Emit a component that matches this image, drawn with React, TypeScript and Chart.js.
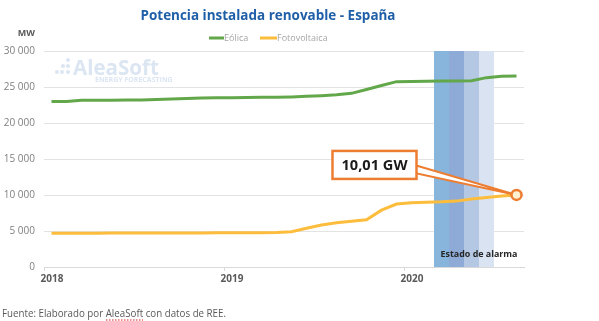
import React, { useEffect, useRef } from "react";
import { Chart, registerables } from "chart.js";

Chart.register(...registerables);

const title = "Potencia instalada renovable - España";
const unitLabel = "MW";
const footnote = "Fuente: Elaborado por AleaSoft con datos de REE.";
const seriesNames = ["Eólica", "Fotovoltaica"];
const seriesColors = ["#62a84a", "#fdbd3c"];

// Monthly values, Jan 2018 .. Aug 2020
const months = [
  "2018-01", "2018-02", "2018-03", "2018-04", "2018-05", "2018-06", "2018-07", "2018-08",
  "2018-09", "2018-10", "2018-11", "2018-12", "2019-01", "2019-02", "2019-03", "2019-04",
  "2019-05", "2019-06", "2019-07", "2019-08", "2019-09", "2019-10", "2019-11", "2019-12",
  "2020-01", "2020-02", "2020-03", "2020-04", "2020-05", "2020-06", "2020-07", "2020-08",
];
const eolica = [
  22990, 23000, 23150, 23160, 23170, 23180, 23200, 23280,
  23350, 23420, 23470, 23500, 23520, 23540, 23560, 23580,
  23620, 23700, 23800, 23920, 24120, 24660, 25200, 25740,
  25750, 25790, 25820, 25850, 25870, 26300, 26500, 26530,
];
const fotovoltaica = [
  4680, 4680, 4690, 4700, 4710, 4710, 4710, 4720,
  4720, 4720, 4730, 4740, 4750, 4760, 4770, 4800,
  4900, 5370, 5830, 6150, 6350, 6550, 7900, 8750,
  8920, 9000, 9050, 9150, 9450, 9650, 9850, 10010,
];
const yearLabels = ["2018", "2019", "2020"];
const alarmMonths = ["2020-03", "2020-04", "2020-05", "2020-06"];
const alarmColors = ["#87b5dc", "#8eaad6", "#b4c8e4", "#dae3f1"];
const alarmLabel = "Estado de alarma";
const calloutText = "10,01 GW";

const FONT = "'Open Sans', sans-serif";
const ORANGE = "#ed7d31";

const fmt = (v: number) => String(v).replace(/\B(?=(\d{3})+(?!\d))/g, " ");

const decor = {
  id: "decor",
  beforeDatasetsDraw(chart: any) {
    const { ctx, chartArea, scales } = chart;
    const x = scales.x;
    ctx.save();
    // watermark
    ctx.fillStyle = "#dce6f2";
    const dots = [[68, 60], [63, 66], [68, 66], [57, 72], [62, 72], [68, 72]];
    dots.forEach(([dx, dy]) => {
      ctx.beginPath();
      ctx.arc(dx, dy, 2, 0, Math.PI * 2);
      ctx.fill();
    });
    ctx.font = `bold 21px ${FONT}`;
    ctx.textBaseline = "alphabetic";
    ctx.textAlign = "left";
    ctx.fillText("AleaSoft", 73, 75, 86);
    ctx.font = `bold 7px ${FONT}`;
    ctx.fillText("ENERGY FORECASTING", 95, 82, 84);

    // bands
    alarmMonths.forEach((m, k) => {
      const i = months.indexOf(m);
      const x0 = x.getPixelForValue(i);
      const x1 = x.getPixelForValue(i + 1);
      ctx.fillStyle = alarmColors[k];
      ctx.fillRect(x0, chartArea.top, x1 - x0, chartArea.bottom - chartArea.top);
    });
    const first = months.indexOf(alarmMonths[0]);
    const lx = (x.getPixelForValue(first) + x.getPixelForValue(first + alarmMonths.length)) / 2 + 15;
    ctx.fillStyle = "#262626";
    ctx.font = `bold 9px ${FONT}`;
    ctx.textAlign = "center";
    ctx.textBaseline = "middle";
    ctx.fillText(alarmLabel, lx, 254, 77);
    ctx.restore();
  },
  afterDatasetsDraw(chart: any) {
    const { ctx, scales } = chart;
    const last = fotovoltaica.length - 1;
    const px = scales.x.getPixelForValue(last + 0.5);
    const py = scales.y.getPixelForValue(fotovoltaica[last]);
    const bw = 84, bh = 28;
    const bRight = px - 100;
    const bTop = py - 44;
    ctx.save();
    // wedge
    ctx.beginPath();
    ctx.moveTo(bRight - 2, bTop + 14);
    ctx.lineTo(px, py);
    ctx.lineTo(bRight - 2, bTop + 22);
    ctx.closePath();
    ctx.fillStyle = "#ffffff";
    ctx.fill();
    ctx.strokeStyle = ORANGE;
    ctx.lineWidth = 2;
    ctx.lineJoin = "miter";
    ctx.stroke();
    // box
    ctx.fillStyle = "#ffffff";
    ctx.fillRect(bRight - bw, bTop, bw, bh);
    ctx.lineWidth = 2.5;
    ctx.strokeRect(bRight - bw, bTop, bw, bh);
    ctx.fillStyle = "#1a1a1a";
    ctx.font = `bold 15px ${FONT}`;
    ctx.textAlign = "center";
    ctx.textBaseline = "middle";
    ctx.fillText(calloutText, bRight - bw / 2, bTop + bh / 2 + 1, 66);
    // marker
    ctx.beginPath();
    ctx.arc(px, py, 5, 0, Math.PI * 2);
    ctx.fillStyle = "#fff1d2";
    ctx.fill();
    ctx.lineWidth = 2.5;
    ctx.strokeStyle = ORANGE;
    ctx.stroke();
    ctx.restore();
  },
  afterDraw(chart: any) {
    const { ctx } = chart;
    ctx.save();
    // title
    ctx.fillStyle = "#1f5fa8";
    ctx.font = `bold 14px ${FONT}`;
    ctx.textAlign = "center";
    ctx.textBaseline = "middle";
    ctx.fillText(title, 268, 16, 255);
    // unit
    ctx.fillStyle = "#595959";
    ctx.font = `bold 9px ${FONT}`;
    ctx.textAlign = "right";
    ctx.fillText(unitLabel, 35, 33);
    // legend
    const items = [
      { x0: 209, x1: 224 },
      { x0: 260, x1: 277 },
    ];
    items.forEach((it, k) => {
      ctx.strokeStyle = seriesColors[k];
      ctx.lineWidth = 3;
      ctx.beginPath();
      ctx.moveTo(it.x0, 38);
      ctx.lineTo(it.x1, 38);
      ctx.stroke();
      ctx.fillStyle = "#a6a6a6";
      ctx.font = `9px ${FONT}`;
      ctx.textAlign = "left";
      ctx.fillText(seriesNames[k], it.x1, 38);
    });
    // footnote
    ctx.fillStyle = "#595959";
    ctx.font = `10.5px ${FONT}`;
    ctx.textAlign = "left";
    ctx.textBaseline = "alphabetic";
    ctx.fillText(footnote, 2, 317, 224);
    ctx.strokeStyle = "#e02020";
    ctx.lineWidth = 1.2;
    ctx.setLineDash([1.5, 1.5]);
    ctx.beginPath();
    ctx.moveTo(106, 320);
    ctx.lineTo(143, 320);
    ctx.stroke();
    ctx.restore();
  },
};

export default function App() {
  const ref = useRef<HTMLCanvasElement>(null);
  useEffect(() => {
    document.body.style.margin = "0";
    const canvas = ref.current;
    if (!canvas) return;
    const chart = new Chart(canvas, {
      type: "line",
      data: {
        datasets: [
          {
            label: seriesNames[0],
            data: eolica.map((v, i) => ({ x: i + 0.5, y: v })),
            borderColor: seriesColors[0],
            borderWidth: 3,
            pointRadius: 0,
            tension: 0,
          },
          {
            label: seriesNames[1],
            data: fotovoltaica.map((v, i) => ({ x: i + 0.5, y: v })),
            borderColor: seriesColors[1],
            borderWidth: 3,
            pointRadius: 0,
            tension: 0,
          },
        ],
      },
      options: {
        responsive: false,
        animation: false,
        layout: { padding: { top: 51, right: 75, bottom: 0, left: 0 } },
        plugins: {
          legend: { display: false },
          title: { display: false },
          tooltip: { enabled: false },
        },
        scales: {
          x: {
            type: "linear",
            min: 0,
            max: months.length,
            afterFit: (s: any) => { s.height = 54; },
            afterBuildTicks: (s: any) => {
              s.ticks = yearLabels.map((_, k) => ({ value: k * 12 }));
            },
            grid: {
              drawOnChartArea: false,
              drawTicks: true,
              tickLength: 4,
              color: "#d9d9d9",
            },
            border: { display: true, color: "#d9d9d9" },
            ticks: {
              autoSkip: false,
              maxRotation: 0,
              padding: 2,
              labelOffset: 8,
              color: "#595959",
              font: { family: FONT, size: 10, weight: "bold" },
              callback: (v: any) => yearLabels[Math.round(Number(v) / 12)] ?? "",
            },
          },
          y: {
            min: 0,
            max: 30000,
            afterFit: (s: any) => { s.width = 44; },
            grid: { color: "#e3e3e3", drawTicks: false },
            border: { display: false },
            ticks: {
              stepSize: 5000,
              padding: 9,
              color: "#7f7f7f",
              font: { family: FONT, size: 10 },
              callback: (v: any) => fmt(Number(v)),
            },
          },
        },
      },
      plugins: [decor],
    });
    return () => chart.destroy();
  }, []);
  return (
    <canvas
      ref={ref}
      width={599}
      height={321}
      style={{ position: "absolute", left: 0, top: 0, width: 599, height: 321 }}
    />
  );
}
